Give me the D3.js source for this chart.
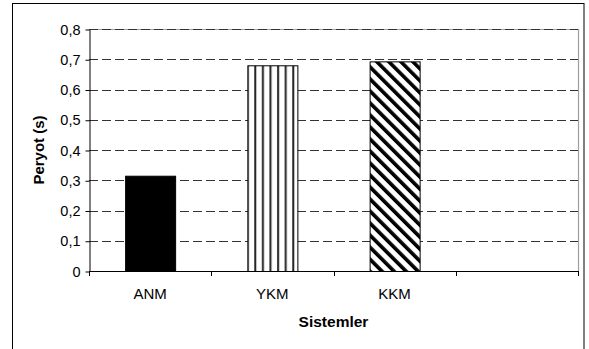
<!DOCTYPE html>
<html>
<head>
<meta charset="utf-8">
<script src="https://cdn.jsdelivr.net/npm/d3@7"></script>
<style>
  html, body { margin: 0; padding: 0; background: #fff; }
  svg { display: block; }
  text { font-family: Arial, "Liberation Sans", sans-serif; fill: #000; }
</style>
</head>
<body>
<svg id="chart" width="589" height="349"></svg>
<script>
// Period values per system
const categories = ["ANM", "YKM", "KKM", ""];
const periods = [0.315, 0.68, 0.693, null];
const fills = ["solid", "vertical", "diagonal", null];
const yTicks = [0, 0.1, 0.2, 0.3, 0.4, 0.5, 0.6, 0.7, 0.8];
const yTickLabels = ["0", "0,1", "0,2", "0,3", "0,4", "0,5", "0,6", "0,7", "0,8"];
const yTitle = "Peryot (s)";
const xTitle = "Sistemler";

const svg = d3.select("#chart");
const plot = { left: 89, right: 578, top: 29, bottom: 271 };

// hatch patterns
const defs = svg.append("defs");
const pv = defs.append("pattern")
  .attr("id", "pat-vertical")
  .attr("patternUnits", "userSpaceOnUse")
  .attr("width", 7.6).attr("height", 10)
  .attr("x", 0.5);
pv.append("rect").attr("width", 7.6).attr("height", 10).attr("fill", "#fff");
pv.append("rect").attr("x", 3).attr("width", 2).attr("height", 10).attr("fill", "#222");

const pd = defs.append("pattern")
  .attr("id", "pat-diagonal")
  .attr("patternUnits", "userSpaceOnUse")
  .attr("width", 8.5).attr("height", 8.5)
  .attr("patternTransform", "rotate(-45)");
pd.append("rect").attr("width", 8.5).attr("height", 8.5).attr("fill", "#fff");
pd.append("rect").attr("width", 3.6).attr("height", 8.5).attr("fill", "#000");

// outer chart frame
svg.append("rect")
  .attr("x", 12.5).attr("y", 3.5)
  .attr("width", 584 - 12.5).attr("height", 360)
  .attr("fill", "#fff").attr("stroke", "#000").attr("stroke-width", 1);

const x = d3.scaleBand()
  .domain(categories.map((c, i) => i))
  .range([plot.left, plot.right])
  .padding(0);

const y = d3.scaleLinear()
  .domain([0, 0.8])
  .range([plot.bottom, plot.top]);

// plot area border (grey) on top and right
svg.append("path")
  .attr("d", `M${plot.left},${plot.top + 0.5}H${plot.right + 0.5}V${plot.bottom}`)
  .attr("fill", "none").attr("stroke", "#a0a0a0").attr("stroke-width", 1.2);

// dashed horizontal gridlines
svg.append("g")
  .selectAll("line")
  .data(yTicks.filter(t => t > 0))
  .join("line")
  .attr("x1", plot.left).attr("x2", plot.right)
  .attr("y1", d => Math.round(y(d)) + 0.5)
  .attr("y2", d => Math.round(y(d)) + 0.5)
  .attr("stroke", "#333").attr("stroke-width", 1)
  .attr("stroke-dasharray", "9,4");

// bars
const fillFor = f => f === "solid" ? "#000" : f === "vertical" ? "url(#pat-vertical)" : "url(#pat-diagonal)";
const barW = 50;
svg.append("g")
  .selectAll("rect")
  .data(categories.map((c, i) => ({ c, i, v: periods[i], f: fills[i] })).filter(d => d.v != null))
  .join("rect")
  .attr("x", d => x(d.i) + (x.bandwidth() - barW) / 2 + 0.5)
  .attr("y", d => y(d.v) + 0.5)
  .attr("width", barW)
  .attr("height", d => y(0) - y(d.v))
  .attr("fill", d => fillFor(d.f))
  .attr("stroke", "#000").attr("stroke-width", 1);

// y axis
const yAxis = d3.axisLeft(y)
  .tickValues(yTicks)
  .tickFormat((d, i) => yTickLabels[i])
  .tickSizeInner(4).tickSizeOuter(0).tickPadding(5);
const gy = svg.append("g")
  .attr("transform", `translate(${plot.left + 0.5},0.5)`)
  .call(yAxis);
gy.select(".domain").attr("stroke", "#000");
gy.selectAll(".tick line").attr("stroke", "#000");
gy.selectAll(".tick text")
  .attr("font-size", 14.5)
  .attr("font-family", "Arial, 'Liberation Sans', sans-serif")
  .attr("fill", "#000");

// x axis line with ticks at category boundaries
const bounds = categories.map((c, i) => x(i)).concat([plot.right]);
const gx = svg.append("g");
gx.append("line")
  .attr("x1", plot.left).attr("x2", plot.right + 1)
  .attr("y1", plot.bottom + 0.5).attr("y2", plot.bottom + 0.5)
  .attr("stroke", "#000");
gx.selectAll("line.tk")
  .data(bounds)
  .join("line").attr("class", "tk")
  .attr("x1", d => Math.round(d) + 0.5).attr("x2", d => Math.round(d) + 0.5)
  .attr("y1", plot.bottom).attr("y2", plot.bottom + 5)
  .attr("stroke", "#000");
gx.selectAll("text")
  .data(categories.map((c, i) => ({ c, i })).filter(d => d.c))
  .join("text")
  .attr("x", d => x(d.i) + x.bandwidth() / 2)
  .attr("y", 299)
  .attr("text-anchor", "middle")
  .attr("font-size", 15)
  .text(d => d.c);

// axis titles
svg.append("text")
  .attr("x", (plot.left + plot.right) / 2)
  .attr("y", 327)
  .attr("text-anchor", "middle")
  .attr("font-size", 15.5).attr("font-weight", "bold")
  .text(xTitle);

svg.append("text")
  .attr("transform", `translate(44,${(plot.top + plot.bottom) / 2}) rotate(-90)`)
  .attr("text-anchor", "middle")
  .attr("font-size", 15).attr("font-weight", "bold")
  .text(yTitle);
</script>
</body>
</html>
